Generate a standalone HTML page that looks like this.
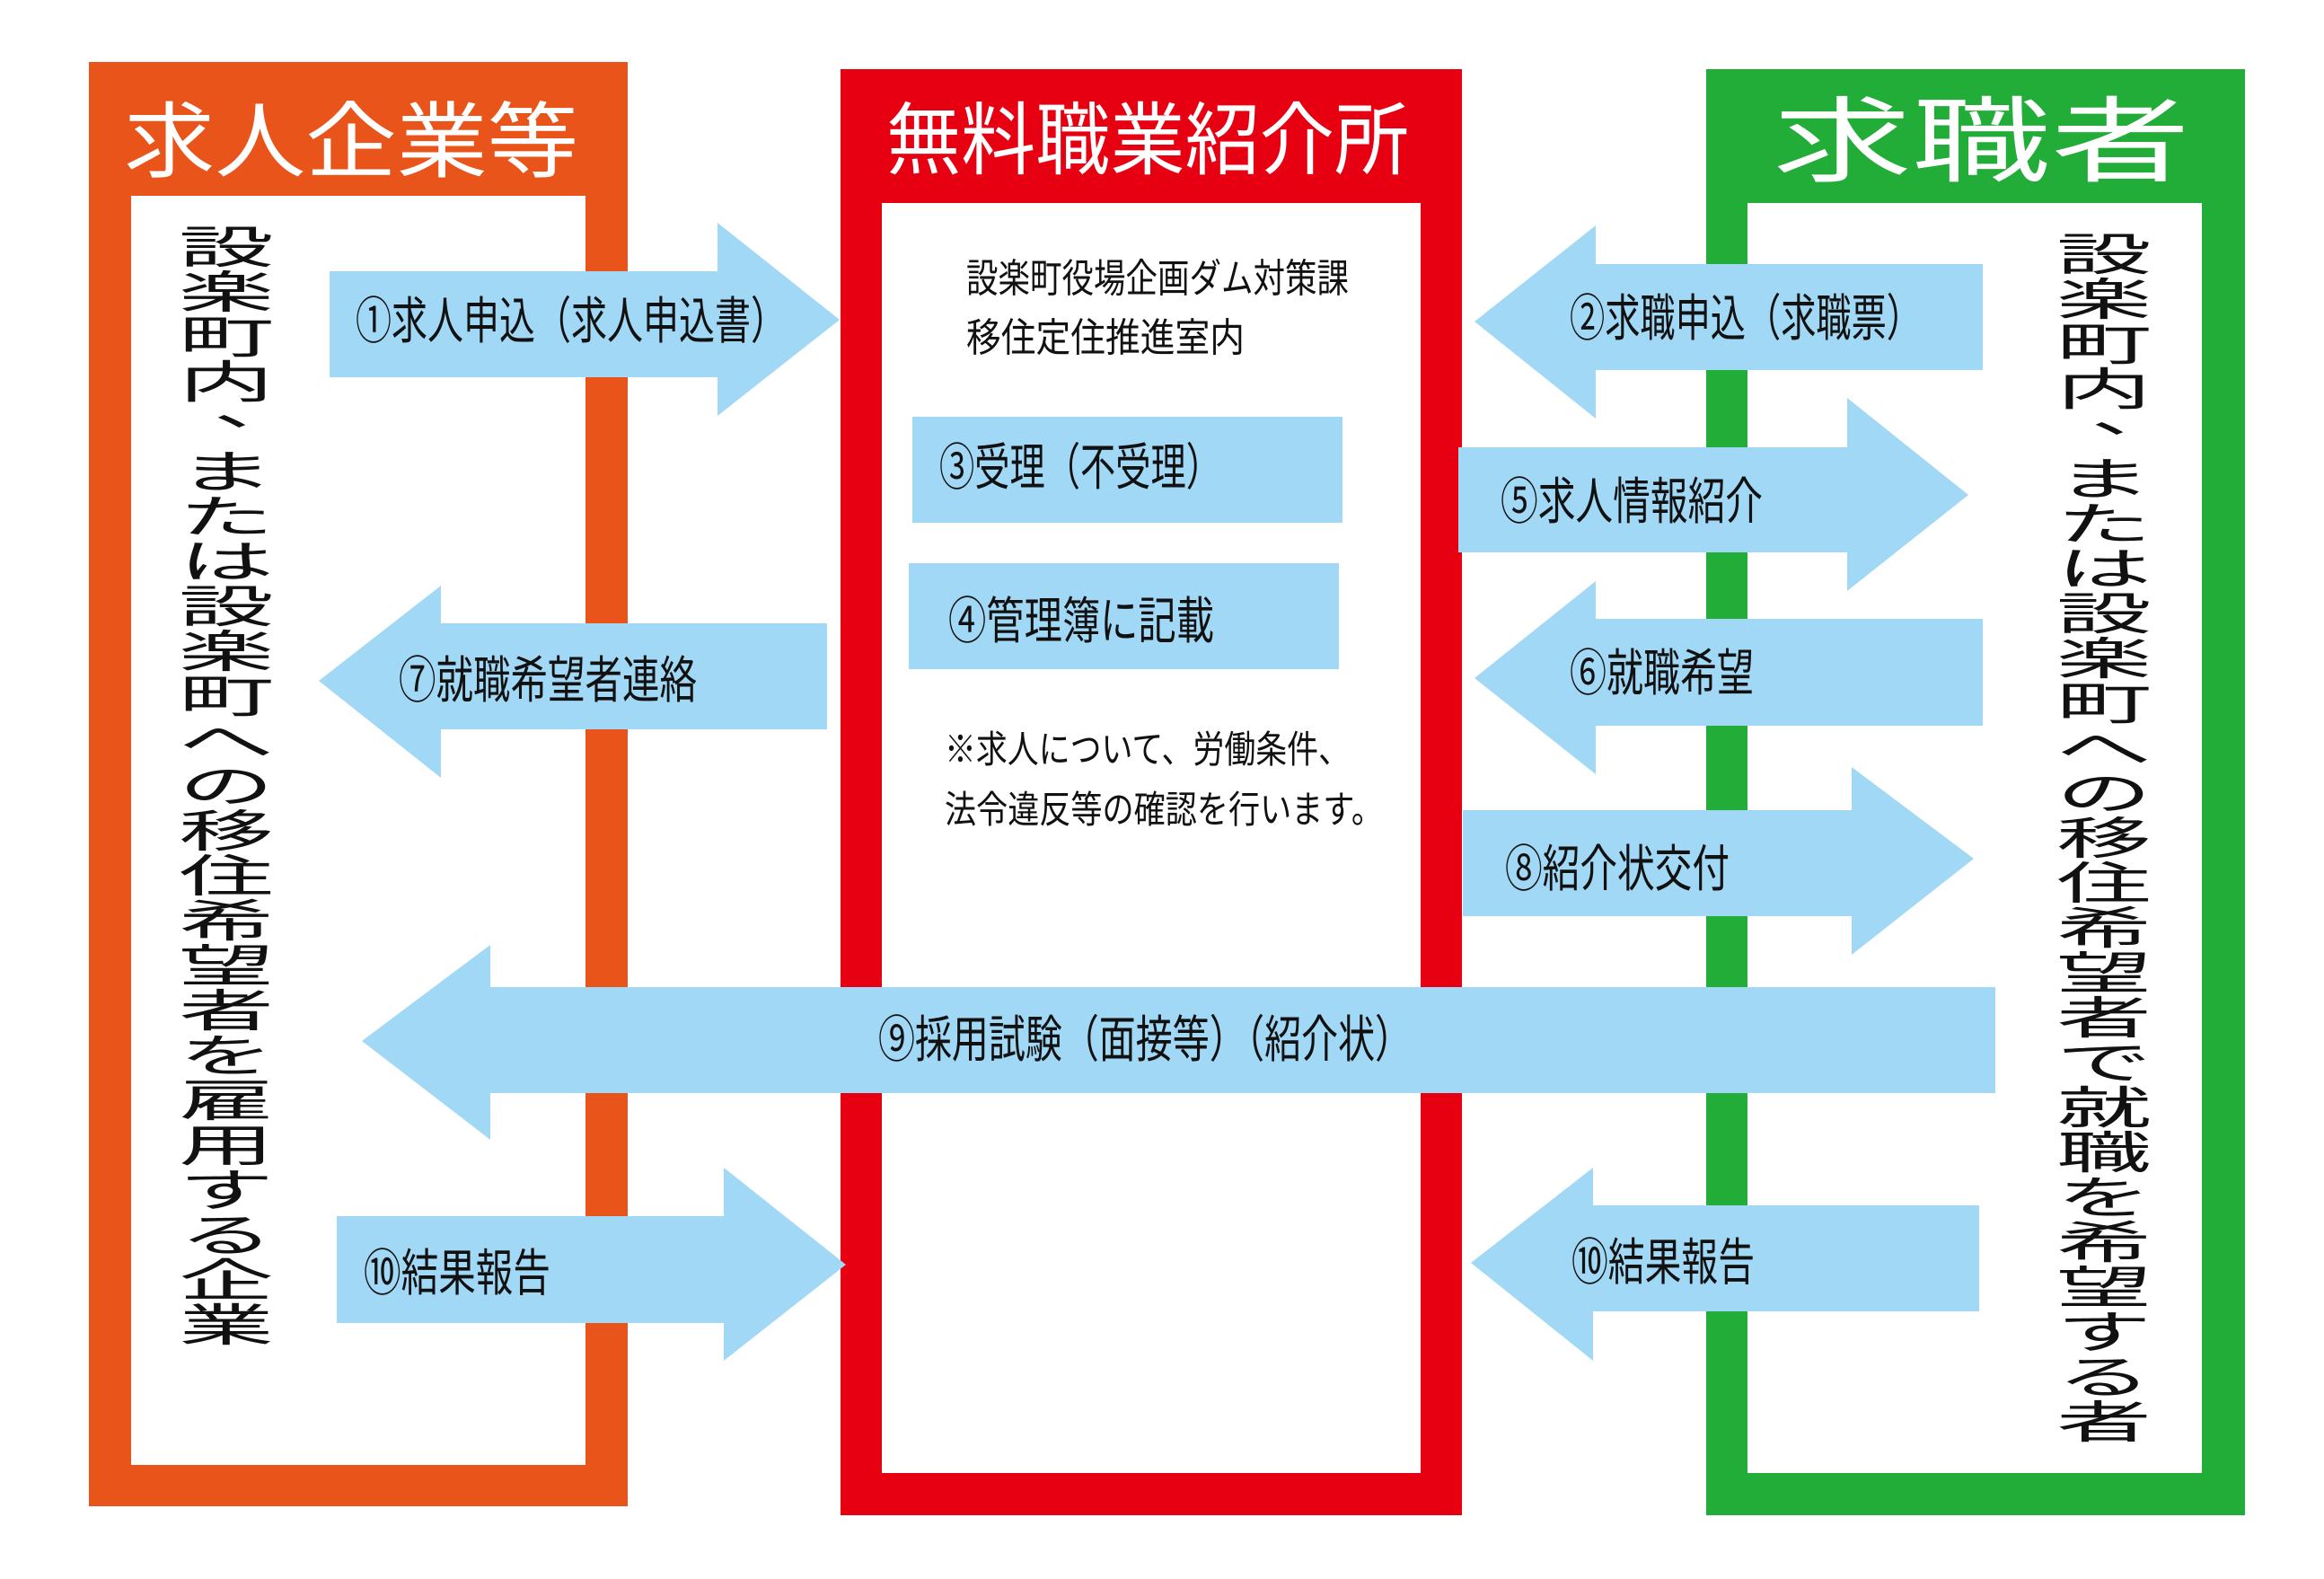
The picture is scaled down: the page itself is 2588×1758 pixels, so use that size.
<!DOCTYPE html>
<html><head><meta charset="utf-8"><style>
html,body{margin:0;padding:0;background:#fff;}
svg{display:block;}
text{font-family:"Liberation Sans","Noto Sans CJK JP",sans-serif;}
</style></head><body>
<svg width="2588" height="1758" viewBox="0 0 2588 1758" xmlns="http://www.w3.org/2000/svg">
<rect width="2588" height="1758" fill="#fff"/>
<rect x="99" y="69" width="600" height="1608" fill="#e8541a"/>
<rect x="146" y="218" width="506" height="1413" fill="#fff"/>
<rect x="936" y="77" width="692" height="1610" fill="#e60012"/>
<rect x="982" y="226" width="600" height="1414" fill="#fff"/>
<rect x="1900" y="77" width="600" height="1610" fill="#22ac38"/>
<rect x="1946" y="226" width="506" height="1414" fill="#fff"/>
<text x="138" y="190" font-size="92" fill="#fff" textLength="506" lengthAdjust="spacingAndGlyphs">求人企業等</text>
<text x="987" y="187" font-size="88" fill="#fff" textLength="582" lengthAdjust="spacingAndGlyphs">無料職業紹介所</text>
<text x="1974" y="194" font-size="104" fill="#fff" textLength="465" lengthAdjust="spacingAndGlyphs">求職者</text>
<text x="1076" y="325" font-size="44" fill="#111" textLength="426" lengthAdjust="spacingAndGlyphs">設楽町役場企画ダム対策課</text>
<text x="1076" y="391" font-size="44" fill="#111" textLength="310" lengthAdjust="spacingAndGlyphs">移住定住推進室内</text>
<rect x="1016" y="464" width="479" height="118" fill="#a0d8f5"/>
<text x="1046" y="540" font-size="56" fill="#111" textLength="314" lengthAdjust="spacingAndGlyphs">③受理（不受理）</text>
<rect x="1012" y="627" width="479" height="118" fill="#a0d8f5"/>
<text x="1056" y="711" font-size="56" fill="#111" textLength="296" lengthAdjust="spacingAndGlyphs">④管理簿に記載</text>
<text x="1052" y="849" font-size="42" fill="#111" textLength="451" lengthAdjust="spacingAndGlyphs">※求人について、労働条件、</text>
<text x="1052" y="916" font-size="42" fill="#111" textLength="488" lengthAdjust="spacingAndGlyphs">法令違反等の確認を行います。</text>
<g fill="#a0d8f5">
<polygon points="367,302 799,302 799,248 935,356 799,463 799,420 367,420"/>
<polygon points="921,694 491,694 491,652 355,758 491,866 491,812 921,812"/>
<polygon points="2208,294 1777,294 1777,251 1642,358 1777,466 1777,412 2208,412"/>
<polygon points="1624,498 2057,498 2057,443 2192,551 2057,658 2057,615 1624,615"/>
<polygon points="2208,689 1777,689 1777,647 1642,755 1777,862 1777,808 2208,808"/>
<polygon points="1629,902 2062,902 2062,854 2198,956 2062,1063 2062,1020 1629,1020"/>
<polygon points="2222,1099 546,1099 546,1052 403,1159 546,1269 546,1217 2222,1217"/>
<polygon points="375,1354 806,1354 806,1300 942,1408 806,1515 806,1473 375,1473"/>
<polygon points="2204,1342 1774,1342 1774,1300 1638,1406 1774,1515 1774,1460 2204,1460"/>
</g>
<g font-size="56" fill="#111">
<text x="396" y="377" textLength="480" lengthAdjust="spacingAndGlyphs">①求人申込（求人申込書）</text>
<text x="444" y="777" textLength="332" lengthAdjust="spacingAndGlyphs">⑦就職希望者連絡</text>
<text x="1748" y="374" textLength="392" lengthAdjust="spacingAndGlyphs">②求職申込（求職票）</text>
<text x="1671" y="578" textLength="292" lengthAdjust="spacingAndGlyphs">⑤求人情報紹介</text>
<text x="1748" y="769" textLength="205" lengthAdjust="spacingAndGlyphs">⑥就職希望</text>
<text x="1676" y="987" textLength="250" lengthAdjust="spacingAndGlyphs">⑧紹介状交付</text>
<text x="978" y="1177" textLength="594" lengthAdjust="spacingAndGlyphs">⑨採用試験（面接等）（紹介状）</text>
<text x="405" y="1437" textLength="208" lengthAdjust="spacingAndGlyphs">⑩結果報告</text>
<text x="1750" y="1425" textLength="204" lengthAdjust="spacingAndGlyphs">⑩結果報告</text>
</g>
<g transform="translate(252,0) scale(1.06,0.5)" font-size="100" fill="#111" text-anchor="middle">
<text y="586">設</text><text y="686">楽</text><text y="786">町</text><text y="886">内</text><text y="946" x="36">、</text>
<text y="1086">ま</text><text y="1186">た</text><text y="1286">は</text><text y="1386">設</text><text y="1486">楽</text>
<text y="1586">町</text><text y="1686">へ</text><text y="1786">の</text><text y="1886">移</text><text y="1986">住</text>
<text y="2086">希</text><text y="2186">望</text><text y="2286">者</text><text y="2386">を</text><text y="2486">雇</text>
<text y="2586">用</text><text y="2686">す</text><text y="2786">る</text><text y="2886">企</text><text y="2986">業</text>
</g>
<g transform="translate(2343,0) scale(1.06,0.5)" font-size="100" fill="#111" text-anchor="middle">
<text y="602">設</text><text y="702">楽</text><text y="802">町</text><text y="902">内</text><text y="962" x="36">、</text>
<text y="1102">ま</text><text y="1202">た</text><text y="1302">は</text><text y="1402">設</text><text y="1502">楽</text>
<text y="1602">町</text><text y="1702">へ</text><text y="1802">の</text><text y="1902">移</text><text y="2002">住</text>
<text y="2102">希</text><text y="2202">望</text><text y="2302">者</text><text y="2402">で</text><text y="2502">就</text>
<text y="2602">職</text><text y="2702">を</text><text y="2802">希</text><text y="2902">望</text><text y="3002">す</text>
<text y="3102">る</text><text y="3202">者</text>
</g>
</svg>
</body></html>
